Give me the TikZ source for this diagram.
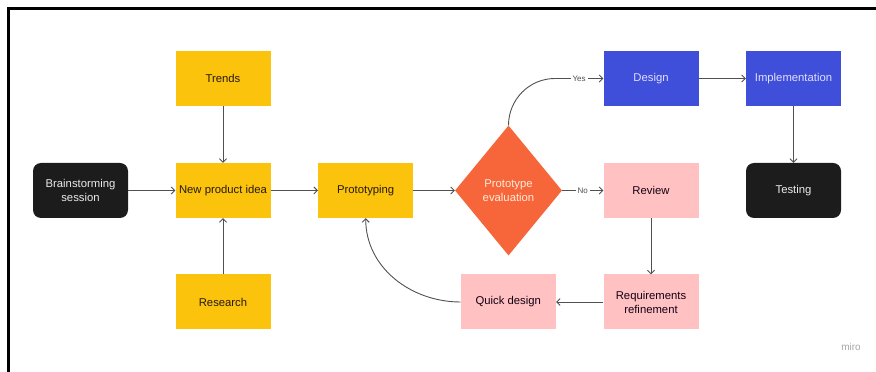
\documentclass[tikz,border=0pt]{standalone}
\usepackage{fontspec}
\setmainfont{Liberation Sans}
\usetikzlibrary{shapes.geometric,arrows.meta}

\definecolor{ideayellow}{HTML}{FBC30C}
\definecolor{evalorange}{HTML}{F7663A}
\definecolor{designblue}{HTML}{3F4FD9}
\definecolor{reviewpink}{HTML}{FFC1C1}
\definecolor{startblack}{HTML}{1C1C1C}
\definecolor{flowgray}{HTML}{505050}

\begin{document}
\begin{tikzpicture}[x=1pt,y=1pt,
  box/.style={minimum width=95pt,minimum height=55pt,inner sep=2pt,align=center,
    font=\fontsize{11.3}{14}\selectfont},
  yellowbox/.style={box,fill=ideayellow,text=black!80!brown},
  pinkbox/.style={box,fill=reviewpink,text=black!85!violet},
  bluebox/.style={box,fill=designblue,text=white!88!blue},
  blackbox/.style={box,fill=startblack,text=white!92!black,rounded corners=8pt},
  decision/.style={diamond,fill=evalorange,text=white!85!orange,align=center,inner sep=0pt,
    minimum width=107pt,minimum height=130pt,font=\fontsize{11.3}{14}\selectfont},
  flow/.style={draw=flowgray,line width=0.9pt,-{Straight Barb[length=3.5pt,width=7pt]}},
  answer/.style={fill=white,text=flowgray,inner sep=2pt,font=\fontsize{8}{9}\selectfont}]
  \useasboundingbox (0,0) rectangle (876,372);

  % frame
  \draw [line width=3pt] (8.5,0) -- (8.5,363.5) -- (876,363.5);

  % idea column
  \node [blackbox] (brainstorm) at (80.5,181.5) {Brainstorming\\session};
  \node [yellowbox] (trends) at (223,293.5) {Trends};
  \node [yellowbox] (idea) at (223,181.5) {New product idea};
  \node [yellowbox] (research) at (223,70) {Research};

  % prototype loop
  \node [yellowbox] (proto) at (365.7,181.5) {Prototyping};
  \node [decision] (eval) at (508.5,181.5) {Prototype\\evaluation};
  \node [pinkbox] (quick) at (508.3,70) {Quick design};
  \node [pinkbox] (review) at (651,181.5) {Review};
  \node [pinkbox] (refine) at (651,70) {Requirements\\refinement};

  % build
  \node [bluebox] (design) at (651,293.5) {Design};
  \node [bluebox] (impl) at (793.5,293.5) {Implementation};
  \node [blackbox] (testing) at (793.5,181.5) {Testing};

  \node [text=black!35,font=\fontsize{10}{10}\selectfont] (brand) at (851,25) {miro};

  % connectors
  \coordinate (yesturn) at (555,293.5);
  \draw [flow] (trends) -- (idea);
  \draw [flow] (research) -- (idea);
  \draw [flow] (brainstorm) -- (idea);
  \draw [flow] (idea) -- (proto);
  \draw [flow] (proto) -- (eval);
  \draw [flow] (eval.north) to[out=90,in=180] (yesturn) -- node[answer] {Yes} (design.west);
  \draw [flow] (eval) -- node[answer] {No} (review);
  \draw [flow] (design) -- (impl);
  \draw [flow] (impl) -- (testing);
  \draw [flow] (review) -- (refine);
  \draw [flow] (refine) -- (quick);
  \draw [flow] (quick.west) to[out=180,in=270] (proto.south);

\end{tikzpicture}
\end{document}
